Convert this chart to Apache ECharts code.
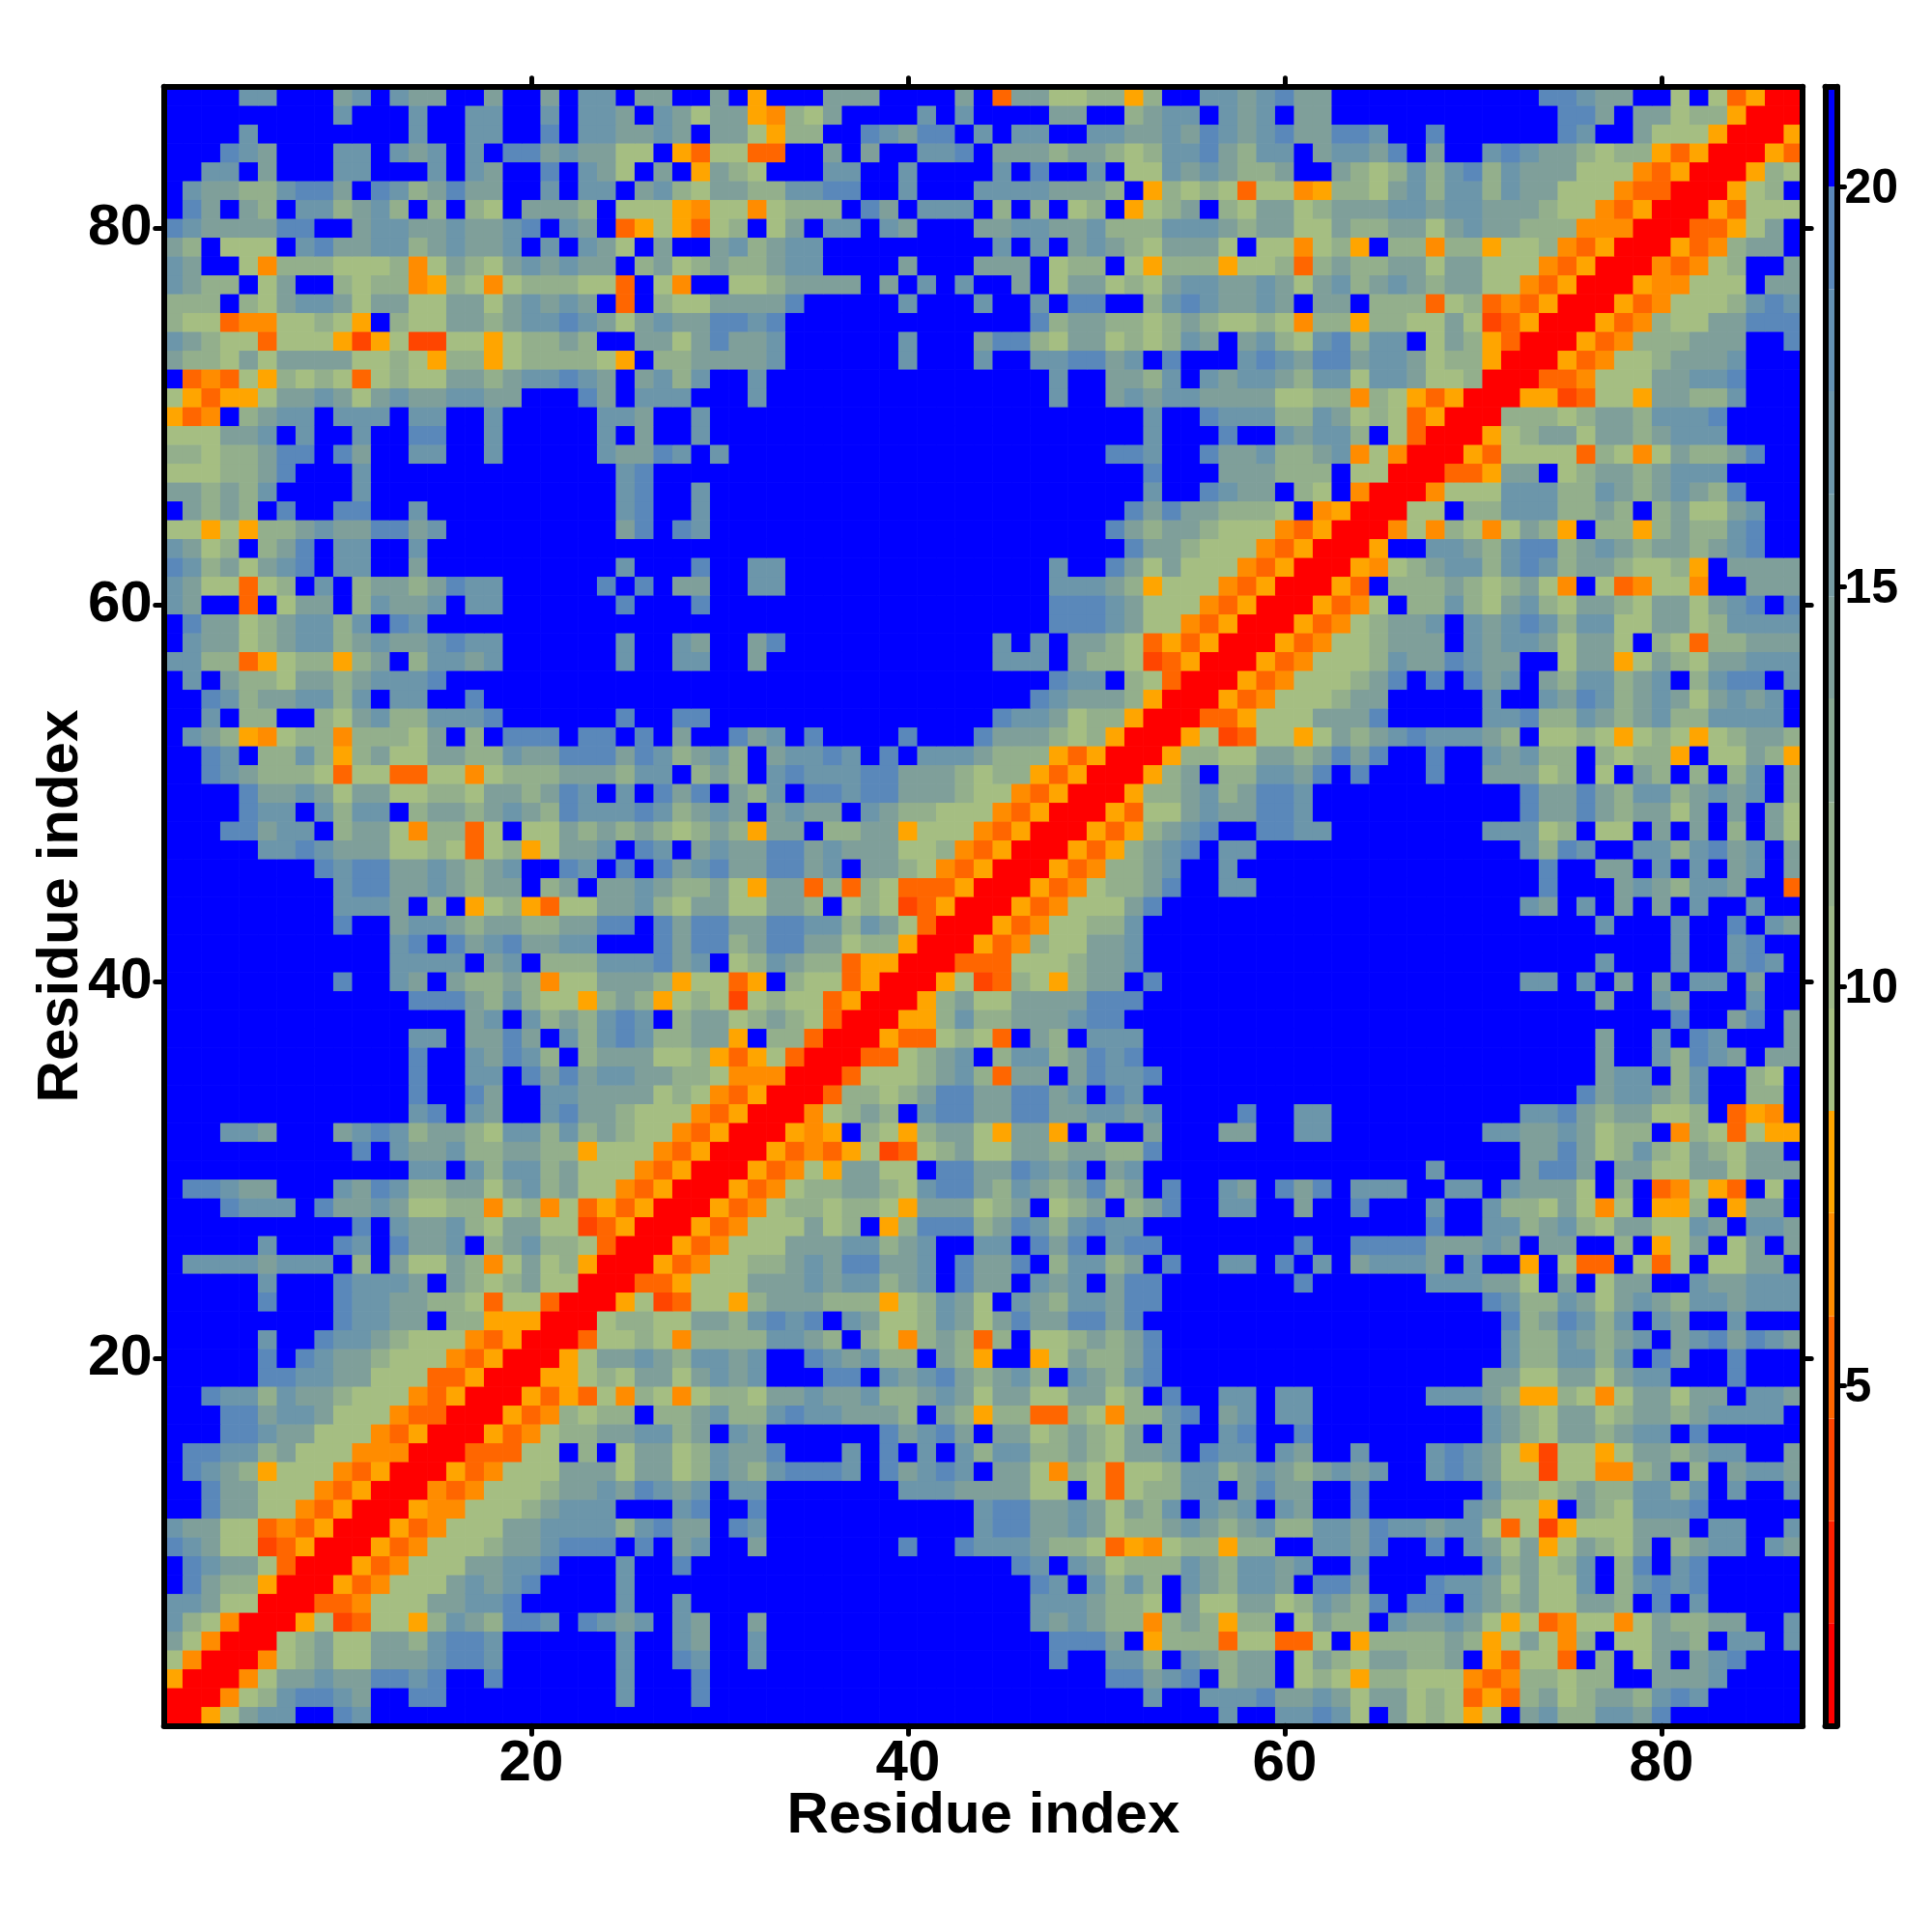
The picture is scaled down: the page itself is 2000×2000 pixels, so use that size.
<!DOCTYPE html>
<html>
<head>
<meta charset="utf-8">
<style>html,body{margin:0;padding:0;background:#fff}#c{width:2000px;height:2000px}</style>
<script src="https://cdn.jsdelivr.net/npm/echarts@6/dist/echarts.min.js"></script>
</head>
<body>
<div id="c"></div>
<script>
// Symmetric residue distance matrix: upper-left triangle, row 87 (top) to row 1, columns 1..row.
const triangle = [
"....22...3 2.233..3.. 3.22.33..3 .e...333.. ..3.c33554 4e4..22321 33........ ...11233.. 5.5ceaa",
".........2 ...2..22.. 2.223.2353 3ed453.... 2.2....33. .4322.232. 33........ ....113.33 544eaa",
"....2..... ...2..22.. 1.223323.3 35e44..123 11.2.22..2 2332312321 33112..1.. ....12..35 55eaa",
"...123...2 2.232.2.11 323355.ec5 5cc..3.3.. 221.333433 4542213422 .32231.3.. 212334544e ceaa",
"..22.3...2 2...2.23.. 1.235.3.e3 45...22..2 ....2.1..2 .552323443 ..34542421 42333555dc eaa",
".233442113 .1243133.. 2.22.32453 3442211..2 ...2222333 4.e4545c55 de44532422 4233555dcc aa",
".13.34.224 324.4.45.3 334.555ed5 5d5444.13. 222.4.4.54 .e543.4533 5433322322 333455dcea a",
"12333311.. 3223323321 .23.ce5ec5 4.53.22.23 ...3322332 4442223433 5534433532 33444dddaa",
"34.555.213 322432332. 2.235.3..3 24322..... ....2.2.32 3453335.55 d54e.44d44 e554dceaa",
"23..5d4445 554d534532 3233.43543 44322....3 ...333.544 .5e444e554 c434433533 555dceaa",
"2344.53..4 544de45d54 4455c.5d.. 5543333.3. 2.2..3.533 5453223323 5324323433 55dceaa",
"444.453223 5335533532 323.c.4553 3331.....2 ...2..2.11 ..42123323 .33.444c54 cdceaa",
"455cdd5545 e.45533432 2123532331 121....... ......1433 4454345545 d44e445535 bceaa",
"23455c555e be5bb55e54 434..33531 332......2 ...3114533 545423.324 521422.534 ecaa",
"3445353333 5545e44e54 4445e.4433 332......2 ...2..2211 32.1...212 3113223544 eaa",
".cdc5e4545 c545533432 2123.3242. .2........ .......2.. 3342.23223 4225223554 aa",
"5ecee53323 532332233. ..13.222.. .2........ .......2.. 3232233335 544d45ecea a",
"ecd.4322.2 22.22..2.. ...223..2. .......... .......... ..2..12224 423545ceaa",
"555332.2.. 2..11..2.. ...2.3..2. .......... .......... ..2...1..2 3224.5caa",
"44544311.1 3..22..2.. ...23312.2 .......... .......... 112..13324 432d5daa",
"5554431... 2......... ....21.... .......... .......... ..1...3334 44.55aa",
"334342.... 2......... ....21..2. .......... .......... ..2..1233. 45.daa",
".3434.1..1 1..2...... ....21..2. .......... .......... .131334445 .deaa",
"55e5e44323 31132..... ....31.12. .......... .......... 134334555d ceaa",
"2354.431.2 2..2...... .......... .......... .......... .1334555dc eaa",
"12435321.2 2..3...... ....2...1. .22....... .......2.. 1353555dce aa",
"2355c54.2. 43343122.. ...1.1.33. .22....... .......222 34e555dcea a",
"23..c.533. 42332.22.. ....1...1. .......... .......111 23555dceaa",
".133543224 2.12...... .......... .......... .......111 2355dceaa",
".233543224 32332122.. ....2..23. .31....... ....2.2.33 45ceceaa",
"2244ce544e 43.42232.. ....2..22. .3........ ....222.34 45bceaa",
".2.3445334 32221..... .......... .......... .......122 .45caa",
"..12433224 2.22..1... .......... .......... ......1233 34eaa",
"..2.44..45 32442221.. ....1..11. .......... ....122354 4eaa",
".234ed544d 44453.4.11 1.11.1.3.. 132.1....1 ...1333454 eaa",
"..12.4424e 4355334423 3111312432 4.32212.1. 2223444ece aa",
"..1234445c 55cc55d544 4333422.43 4.21222113 334544ecea a",
"....133235 3355445334 312.2.131. 342.112113 33455dceaa",
"....122.24 22.4334323 4122212432 3.3233.234 4555dceaa",
"...11322.4 335d44c5.5 5343434543 4e33.4433e 555dceaa",
".....22123 335545c54e 5332.12.32 3311323335 54dceaa",
"........12 113323432. .12.1.1321 331132.334 5dceaa",
".........2 113323433. 43.3323443 5e33c4c45c cceaa",
".........2 223.4.e54e c553324533 55334.545b ceaa",
".........1 ..32234334 43311.1311 3311224235 caa",
".......... ..21.13213 322...1311 431133544e aa",
".......... ..2222.32. 444222132. 542344ceea a",
".........1 ..23.34434 d553334e55 ce.455ceaa",
".......... ...1113424 55e434e545 b5455ceaa",
".......... ......32.2 434212.433 54345caa",
".......... ...22.3313 .242124433 e.44caa",
".......... ...1..2312 4.4333554e ce5caa",
".......... ...1..22.1 3132233445 dddaa",
".......... ...1..13.. 223333545d ceaa",
".......... ...21.23.. 21334555dc eaa",
"...223...3 2124334522 4243455dce aa",
".......... 1.23324433 44e555dceaa",
".......... ...22.2422 43555dceaa",
".11233...2 3124433532 4355dceaa",
"...1222.13 3235544d54 d5ceceaa",
".......... 1.23324533 55bceaa",
".....2...1 2.1332.432 445caa",
".22223222. 4.35534d53 54eaa",
".....2...1 2223.34543 55aa",
".....1...1 2233445c55 caa",
".........1 2233.44eee aa",
".....2..12 234555dcea a",
".....1.123 34555dceaa",
".....11223 3555cceaa",
"..12242334 555dceaa",
"...1132235 55dccaa",
"...1123355 5dceaa",
".112243555 dddaa",
".1234e555d ceaa",
"..133555dc eaa",
"..13355dce aa",
"23355cdcea a",
"12355bceaa",
".12335caa",
".1344eaa",
"22355aa",
"245daa",
"35daa",
"5daa",
"eaa",
"aa",
"a"
];
const codes = {a:1.4, b:4, c:5.2, d:6.5, e:7.8, 5:9, 4:11.6, 3:14.2, 2:16.8, 1:19.3, '.':21};
const levelBreaks = [0.75,2.03,3.31,4.59,5.87,7.16,8.44,9.72,11.0,12.3,13.6,14.87,16.15,17.44,18.72,20,21.25];
const levelColors = ['#FF0000','#FF2000','#FF4500','#FF6600','#FF8C00','#FFA500',
  '#A5BE82','#9DB787','#93AF8C','#89A892','#7F9F9A','#769BA2','#6C96AA','#6390B2','#5A88BA','#0000FF'];
const residues = Array.from({length:87},(_,i)=>String(i+1));
const residueTicks = ['20','40','60','80'];
const barTicks = [5,10,15,20];

const rows = triangle.map(s=>s.replace(/ /g,''));
function cell(x,y){ // 1-based residue indices
  const hi=Math.max(x,y), lo=Math.min(x,y);
  const ch=rows[87-hi][lo-1];
  return codes[ch===undefined?'.':ch];
}
const heat=[];
for(let y=1;y<=87;y++) for(let x=1;x<=87;x++) heat.push([x-1,y-1,cell(x,y)]);

const FONT='"Liberation Sans"';
const frame={show:true,onZero:false,lineStyle:{color:'#000',width:6,cap:'round'}};
const showTick=(i,v)=>residueTicks.includes(v);
const mainTick={show:true,alignWithLabel:true,interval:showTick,length:9,lineStyle:{color:'#000',width:5,cap:'round'}};
const noMark={axisTick:{show:false},axisLabel:{show:false},splitLine:{show:false},axisLine:frame,z:10};

const chart=echarts.init(document.getElementById('c'),null,{renderer:'canvas',width:2000,height:2000});
chart.setOption({
  animation:false,
  backgroundColor:'#fff',
  textStyle:{fontFamily:FONT},
  grid:[
    {left:169.7,top:89.8,width:1696.5,height:1696.5},
    {left:1889.5,top:89.8,width:12,height:1696.5}
  ],
  xAxis:[
    {type:'category',gridIndex:0,position:'bottom',data:residues,z:10,axisLine:frame,axisTick:mainTick,splitLine:{show:false},
     axisLabel:{show:true,interval:showTick,margin:10,color:'#000',fontSize:60,fontWeight:'bold',fontFamily:FONT},
     name:'Residue index',nameLocation:'middle',nameGap:94,nameMoveOverlap:false,nameTextStyle:{color:'#000',fontSize:60,fontWeight:'bold',fontFamily:FONT,verticalAlign:'middle'}},
    {type:'category',gridIndex:0,position:'top',data:residues,z:10,axisLine:frame,axisTick:mainTick,axisLabel:{show:false},splitLine:{show:false}},
    Object.assign({type:'category',gridIndex:1,position:'bottom',data:['']},noMark),
    Object.assign({type:'category',gridIndex:1,position:'top',data:['']},noMark)
  ],
  yAxis:[
    {type:'category',gridIndex:0,position:'left',data:residues,z:10,axisLine:frame,axisTick:mainTick,splitLine:{show:false},
     axisLabel:{show:true,interval:showTick,margin:12,color:'#000',fontSize:60,fontWeight:'bold',fontFamily:FONT},
     name:'Residue index',nameLocation:'middle',nameGap:106,nameRotate:90,nameMoveOverlap:false,nameTextStyle:{color:'#000',fontSize:60,fontWeight:'bold',fontFamily:FONT,verticalAlign:'middle'}},
    {type:'category',gridIndex:0,position:'right',data:residues,z:10,axisLine:frame,axisTick:mainTick,axisLabel:{show:false},splitLine:{show:false}},
    Object.assign({type:'value',gridIndex:1,position:'left',min:0.75,max:21.25},noMark),
    {type:'value',gridIndex:1,position:'right',min:0.75,max:21.25,z:10,axisLine:frame,splitLine:{show:false},
     axisTick:{show:true,customValues:barTicks,length:8,lineStyle:{color:'#000',width:5,cap:'round'}},
     axisLabel:{show:true,customValues:barTicks,margin:8,formatter:'{t|{value}}',
       rich:{t:{padding:[6,0,0,0],color:'#000',fontSize:50,fontWeight:'bold',fontFamily:FONT}}}}
  ],
  visualMap:{type:'piecewise',show:false,seriesIndex:0,dimension:2,
    pieces:levelColors.map((c,i)=>({gte:levelBreaks[i],lt:levelBreaks[i+1],color:c}))},
  series:[
    {type:'heatmap',xAxisIndex:0,yAxisIndex:0,data:heat,progressive:0,silent:true,itemStyle:{borderWidth:0}}
  ].concat(levelColors.map((c,i)=>({
    type:'bar',xAxisIndex:2,yAxisIndex:3,stack:'bar',barWidth:'100%',silent:true,
    data:[i===0?levelBreaks[1]:levelBreaks[i+1]-levelBreaks[i]],itemStyle:{color:c}
  })))
});
</script>
</body>
</html>
